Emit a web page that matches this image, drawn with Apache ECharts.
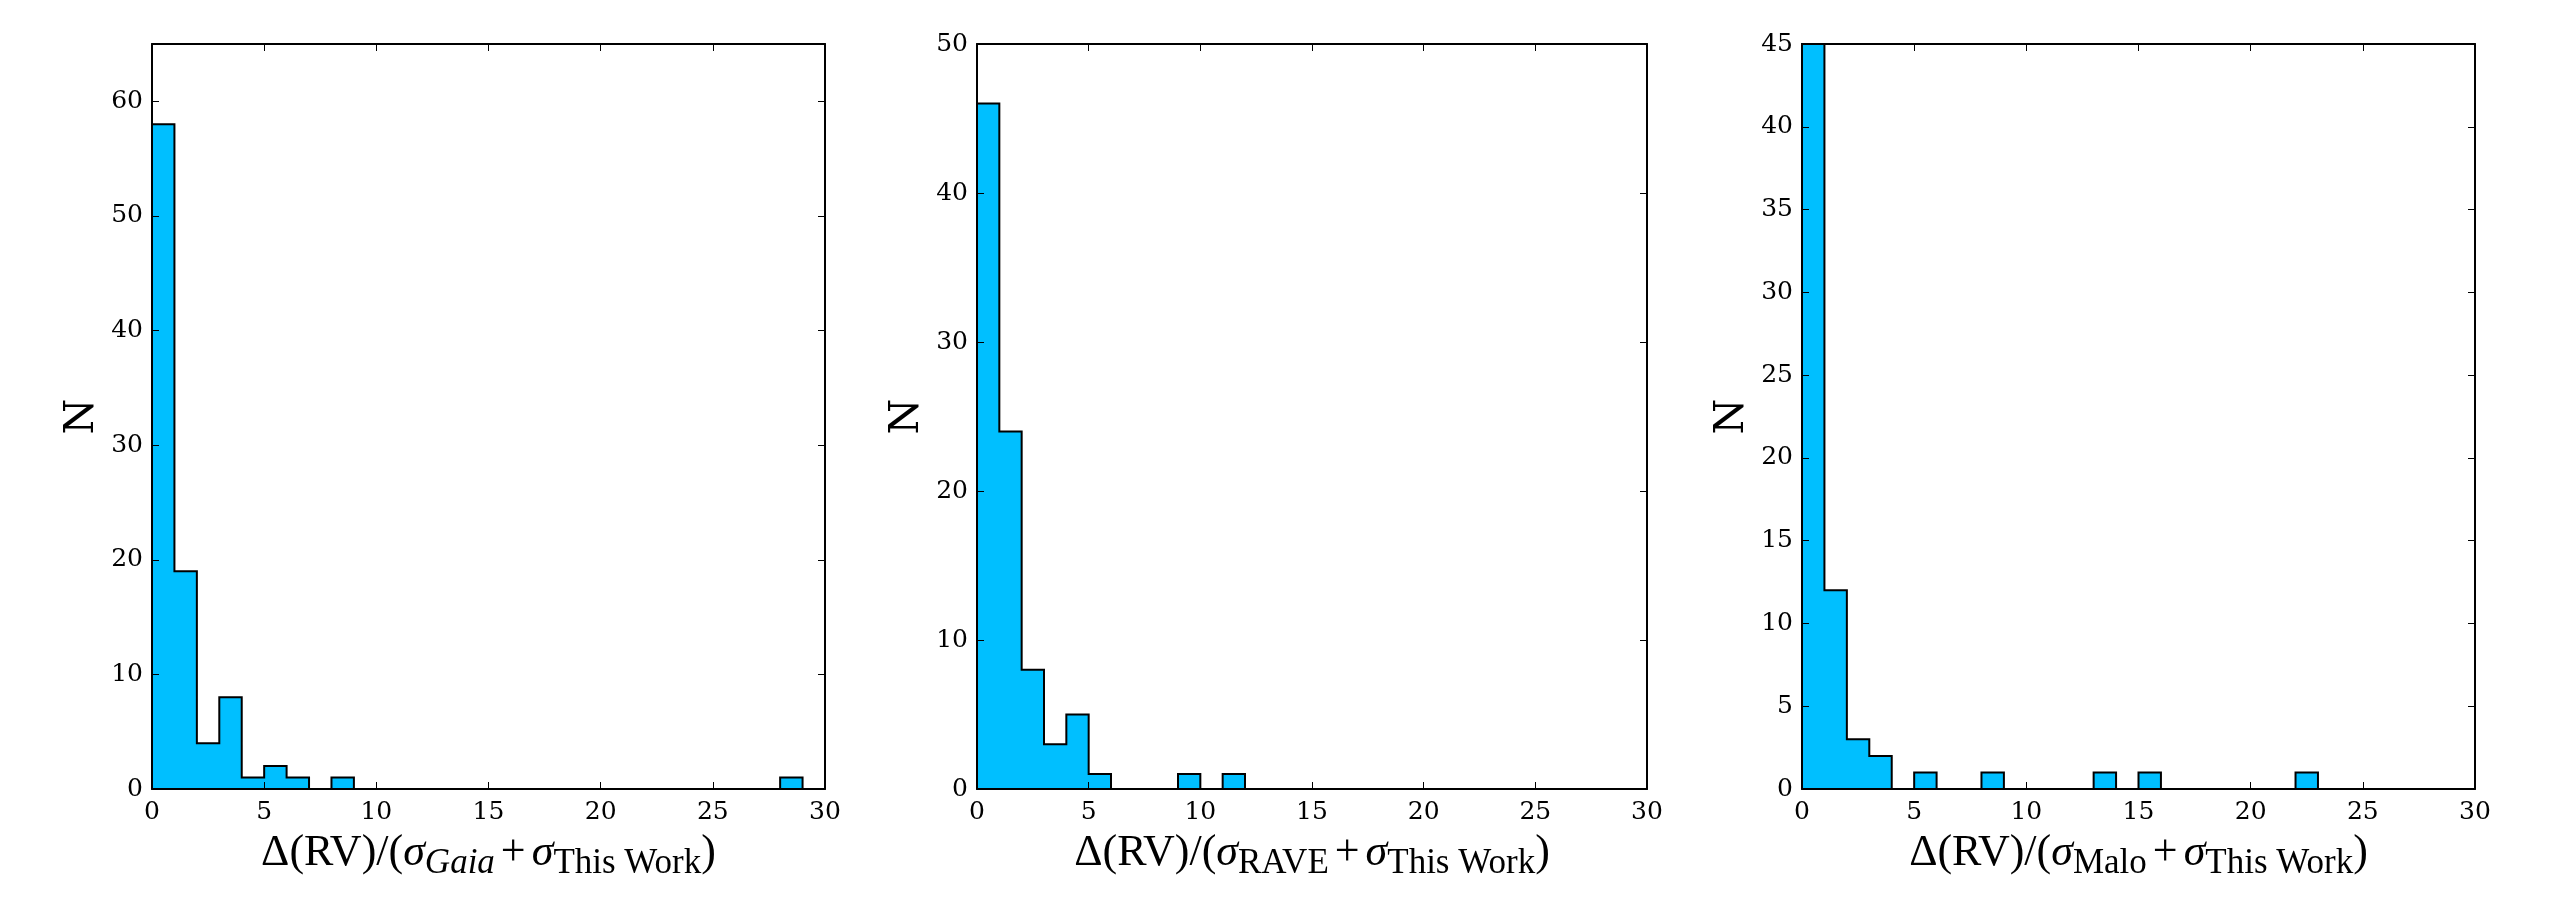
<!DOCTYPE html>
<html>
<head>
<meta charset="utf-8">
<script src="https://cdn.jsdelivr.net/npm/echarts@6/dist/echarts.min.js"></script>
<style>
  html, body { margin: 0; padding: 0; background: #fff; }
  #chart { width: 2550px; height: 900px; }
</style>
</head>
<body>
<div id="chart"></div>
<script>
// histogram counts, bins of width 1 from 0 to 30
var bin_width = 1
var gaia_counts = [58, 19, 4, 8, 1, 2, 1, 0, 1, 0, 0, 0, 0, 0, 0, 0, 0, 0, 0, 0, 0, 0, 0, 0, 0, 0, 0, 0, 1, 0]
var rave_counts = [46, 24, 8, 3, 5, 1, 0, 0, 0, 1, 0, 1, 0, 0, 0, 0, 0, 0, 0, 0, 0, 0, 0, 0, 0, 0, 0, 0, 0, 0]
var malo_counts = [45, 12, 3, 2, 0, 1, 0, 0, 1, 0, 0, 0, 0, 1, 0, 1, 0, 0, 0, 0, 0, 0, 1, 0, 0, 0, 0, 0, 0, 0]

// axis ranges
var x_max = [30, 30, 30]
var x_step = [5, 5, 5]
var y_max = [65, 50, 45]
var y_step = [10, 10, 5]

var x_names = [
  '{m|Δ(RV)/(}{i|σ}{si|Gaia}{p|+}{i|σ}{s|This Work}{m|)}',
  '{m|Δ(RV)/(}{i|σ}{s|RAVE}{p|+}{i|σ}{s|This Work}{m|)}',
  '{m|Δ(RV)/(}{i|σ}{s|Malo}{p|+}{i|σ}{s|This Work}{m|)}'
]

var grid_left = [152, 977, 1802]
var grid_width = [673, 670, 673]

var serif = 'DejaVu Serif'
var math = 'Liberation Serif'

function step_points (counts) {
  var pts = [[0, 0]]
  for (var i = 0; i < counts.length; i++) {
    pts.push([i * bin_width, counts[i]])
    pts.push([(i + 1) * bin_width, counts[i]])
  }
  pts.push([counts.length * bin_width, 0])
  return pts
}

var name_rich = {
  m: { fontFamily: math, fontSize: 44, color: '#000', lineHeight: 56, verticalAlign: 'middle' },
  p: { fontFamily: math, fontSize: 44, color: '#000', lineHeight: 56, verticalAlign: 'middle', padding: [0, 6, 0, 6] },
  i: { fontFamily: math, fontSize: 44, fontStyle: 'italic', color: '#000', lineHeight: 56, verticalAlign: 'middle' },
  s: { fontFamily: math, fontSize: 35, color: '#000', lineHeight: 34, verticalAlign: 'bottom' },
  si: { fontFamily: math, fontSize: 35, fontStyle: 'italic', color: '#000', lineHeight: 36, verticalAlign: 'bottom' }
}

var all_counts = [gaia_counts, rave_counts, malo_counts]
var grids = [], xAxes = [], yAxes = [], series = []

for (var p = 0; p < 3; p++) {
  grids.push({ left: grid_left[p], top: 44, width: grid_width[p], height: 745 })
  var tick = { show: true, inside: true, length: 7, lineStyle: { color: '#000', width: 1 } }
  var line = { show: true, onZero: false, lineStyle: { color: '#000', width: 2 } }
  var ys = y_step[p]
  xAxes.push({
    type: 'value', gridIndex: p, position: 'bottom', min: 0, max: x_max[p], interval: x_step[p], z: 10,
    axisLine: line, axisTick: tick, splitLine: { show: false },
    axisLabel: { margin: 11, fontFamily: serif, fontSize: 25, color: '#000' },
    name: x_names[p], nameLocation: 'middle', nameGap: 36,
    nameTextStyle: { rich: name_rich }
  })
  xAxes.push({
    type: 'value', gridIndex: p, position: 'top', min: 0, max: x_max[p], interval: x_step[p], z: 10,
    axisLine: line, axisTick: tick, splitLine: { show: false }, axisLabel: { show: false }
  })
  yAxes.push({
    type: 'value', gridIndex: p, position: 'left', min: 0, max: y_max[p], interval: ys, z: 10,
    axisLine: line, axisTick: tick, splitLine: { show: false },
    axisLabel: {
      margin: 9, fontFamily: serif, fontSize: 25, color: '#000',
      formatter: (function (s) { return function (v) { return v % s ? '' : String(v) } })(ys)
    },
    name: 'N', nameLocation: 'middle', nameGap: 49, nameRotate: 90,
    nameTextStyle: { fontFamily: serif, fontSize: 41, color: '#000' }
  })
  yAxes.push({
    type: 'value', gridIndex: p, position: 'right', min: 0, max: y_max[p], interval: ys, z: 10,
    axisLine: line, axisTick: tick, splitLine: { show: false }, axisLabel: { show: false }
  })
  series.push({
    type: 'line', xAxisIndex: p * 2, yAxisIndex: p * 2, data: step_points(all_counts[p]),
    symbol: 'none', silent: true, z: 2,
    lineStyle: { color: '#000', width: 2, join: 'miter' },
    areaStyle: { color: '#00BFFF', opacity: 1 }
  })
}

var chart = echarts.init(document.getElementById('chart'))
chart.setOption({
  animation: false,
  backgroundColor: '#fff',
  grid: grids,
  xAxis: xAxes,
  yAxis: yAxes,
  series: series
})
</script>
</body>
</html>
